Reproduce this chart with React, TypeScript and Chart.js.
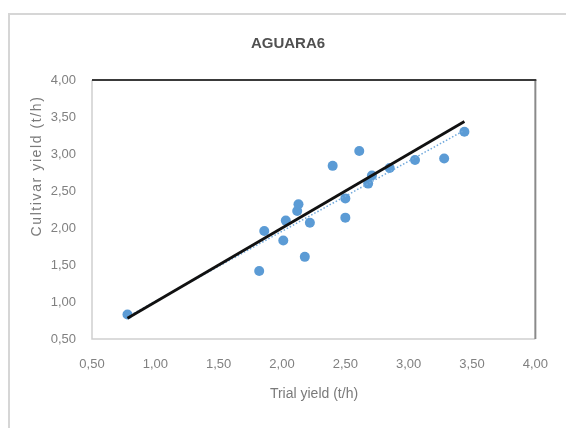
import React, { useEffect, useRef } from "react";
import { Chart, registerables } from "chart.js";

Chart.register(...registerables);

const chartTitle = "AGUARA6";
const xAxisTitle = "Trial yield (t/h)";
const yAxisTitle = "Cultivar yield (t/h)";

const trialYield = [0.78, 1.82, 1.86, 2.01, 2.03, 2.12, 2.13, 2.18, 2.22, 2.40, 2.50, 2.50, 2.61, 2.68, 2.71, 2.85, 3.05, 3.28, 3.44];
const cultivarYield = [0.83, 1.42, 1.96, 1.83, 2.10, 2.23, 2.32, 1.61, 2.07, 2.84, 2.14, 2.40, 3.04, 2.60, 2.71, 2.81, 2.92, 2.94, 3.30];

const identityX = [0.78, 3.44];
const identityY = [0.78, 3.44];

const trendX = [0.78, 3.44];
const trendY = [0.80, 3.32];

const axisMin = 0.5;
const axisMax = 4.0;
const axisStep = 0.5;

const FONT = "'Liberation Sans', Arial, sans-serif";

const fmt = (v: number) => Number(v).toFixed(2).replace(".", ",");

const decor = {
  id: "decor",
  beforeDraw(chart: any) {
    const { ctx, width, height } = chart;
    ctx.save();
    ctx.fillStyle = "#ffffff";
    ctx.fillRect(0, 0, width, height);
    ctx.strokeStyle = "#d6d6d6";
    ctx.lineWidth = 2;
    ctx.beginPath();
    ctx.moveTo(9, height);
    ctx.lineTo(9, 14);
    ctx.lineTo(width, 14);
    ctx.stroke();
    ctx.restore();
  },
  beforeDatasetsDraw(chart: any) {
    const { ctx, chartArea: a } = chart;
    ctx.save();
    ctx.lineWidth = 1.5;
    ctx.strokeStyle = "#cfcfcf";
    ctx.beginPath();
    ctx.moveTo(a.left, a.top);
    ctx.lineTo(a.left, a.bottom);
    ctx.lineTo(a.right, a.bottom);
    ctx.stroke();
    ctx.lineWidth = 2;
    ctx.strokeStyle = "#8a8a8a";
    ctx.beginPath();
    ctx.moveTo(a.right, a.top);
    ctx.lineTo(a.right, a.bottom);
    ctx.stroke();
    ctx.strokeStyle = "#3a3a3a";
    ctx.beginPath();
    ctx.moveTo(a.left, a.top);
    ctx.lineTo(a.right + 1, a.top);
    ctx.stroke();
    ctx.restore();
  },
  afterDraw(chart: any) {
    const { ctx } = chart;
    ctx.save();
    ctx.textAlign = "center";
    ctx.textBaseline = "middle";
    ctx.fillStyle = "#505050";
    ctx.font = `bold 15px ${FONT}`;
    ctx.fillText(chartTitle, 288, 44);

    ctx.fillStyle = "#7a7a7a";
    ctx.font = `14px ${FONT}`;
    ctx.fillText(xAxisTitle, 314, 394);

    ctx.translate(37, 166);
    ctx.rotate(-Math.PI / 2);
    try {
      (ctx as any).letterSpacing = "1.6px";
    } catch (e) {}
    ctx.fillText(yAxisTitle, 0, 0);
    ctx.restore();
  },
};

export default function App() {
  const ref = useRef<HTMLCanvasElement>(null);

  useEffect(() => {
    if (!ref.current) return;
    const points = trialYield.map((x, i) => ({ x, y: cultivarYield[i] }));
    const identity = identityX.map((x, i) => ({ x, y: identityY[i] }));
    const trend = trendX.map((x, i) => ({ x, y: trendY[i] }));

    const chart = new Chart(ref.current, {
      type: "scatter",
      data: {
        datasets: [
          {
            type: "line",
            data: identity,
            borderColor: "#111111",
            borderWidth: 2.8,
            pointRadius: 0,
            fill: false,
          } as any,
          {
            type: "line",
            data: trend,
            borderColor: "#6fa8dc",
            borderWidth: 1.5,
            borderDash: [1.5, 2],
            pointRadius: 0,
            fill: false,
          } as any,
          {
            data: points,
            backgroundColor: "#5B9BD5",
            borderColor: "#5B9BD5",
            pointRadius: 5,
            borderWidth: 0,
          },
        ],
      },
      options: {
        animation: false,
        responsive: false,
        devicePixelRatio: 1,
        layout: { padding: { left: 20, right: 30, top: 80, bottom: 0 } },
        plugins: {
          legend: { display: false },
          tooltip: { enabled: false },
          title: { display: false },
        },
        scales: {
          x: {
            type: "linear",
            min: axisMin,
            max: axisMax,
            grid: { display: false, drawTicks: false },
            border: { display: false },
            ticks: {
              stepSize: axisStep,
              padding: 18,
              color: "#808080",
              font: { family: FONT, size: 13 },
              callback: (v: any) => fmt(v),
            },
            afterFit: (s: any) => {
              s.height = 89;
            },
          },
          y: {
            type: "linear",
            min: axisMin,
            max: axisMax,
            grid: { display: false, drawTicks: false },
            border: { display: false },
            ticks: {
              stepSize: axisStep,
              padding: 16,
              color: "#808080",
              font: { family: FONT, size: 13 },
              callback: (v: any) => fmt(v),
            },
            afterFit: (s: any) => {
              s.width = 72;
            },
          },
        },
      },
      plugins: [decor],
    });
    return () => chart.destroy();
  }, []);

  return (
    <div style={{ position: "absolute", left: 0, top: 0, width: 566, height: 428, background: "#fff" }}>
      <canvas ref={ref} width={566} height={428} style={{ display: "block" }} />
    </div>
  );
}
